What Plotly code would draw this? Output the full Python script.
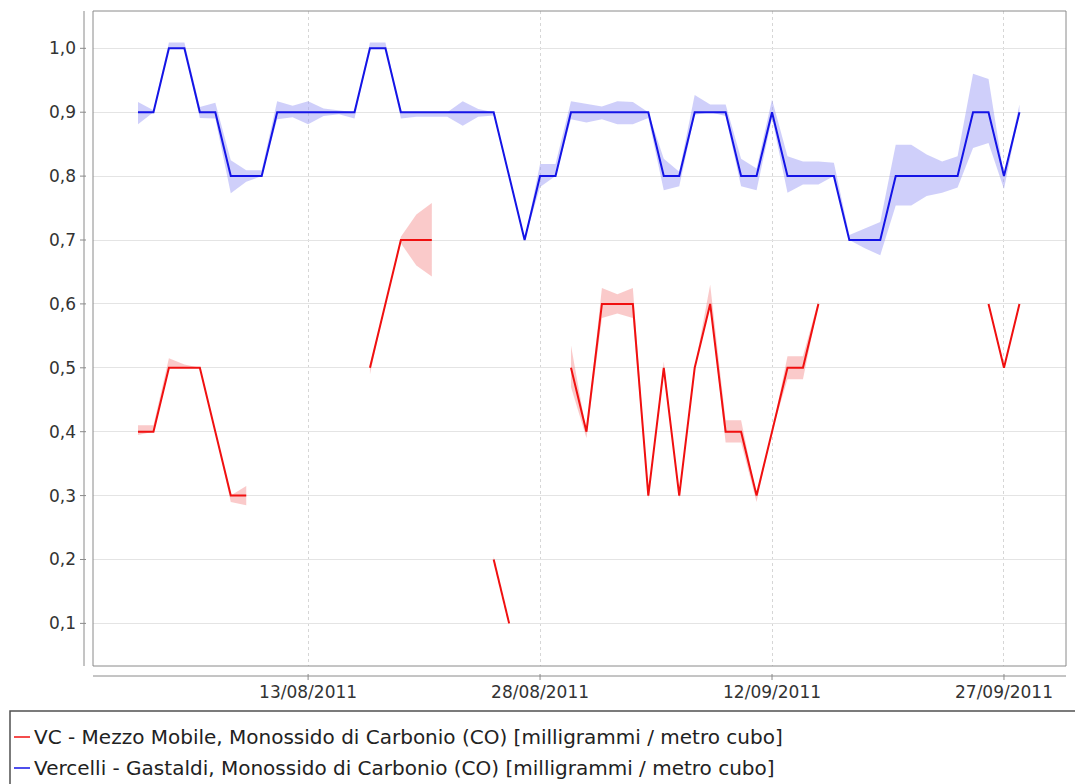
import pandas as pd
import plotly.graph_objects as go

# Daily CO readings, 02/08/2011 .. 28/09/2011 (None = no reading)
DATES = pd.date_range("2011-08-02", "2011-09-28", freq="D")

SERIES_NAMES = [
    "VC - Mezzo Mobile, Monossido di Carbonio (CO) [milligrammi / metro cubo]",
    "Vercelli - Gastaldi, Monossido di Carbonio (CO) [milligrammi / metro cubo]",
]

# VC - Mezzo Mobile
RED_VALUES = [
    0.4, 0.4, 0.5, 0.5, 0.5, 0.4, 0.3, 0.3, None, None,          # 02-11 Aug
    None, None, None, None, None, 0.5, 0.6, 0.7, 0.7, 0.7,       # 12-21 Aug
    None, None, None, 0.2, 0.1, None, None, None, 0.5, 0.4,      # 22-31 Aug
    0.6, 0.6, 0.6, 0.3, 0.5, 0.3, 0.5, 0.6, 0.4, 0.4,            # 01-10 Sep
    0.3, 0.4, 0.5, 0.5, 0.6, None, None, None, None, None,       # 11-20 Sep
    None, None, None, None, None, 0.6, 0.5, 0.6,                 # 21-28 Sep
]
RED_UPPER = [
    0.41, 0.41, 0.515, 0.505, 0.5, 0.4, 0.3, 0.315, None, None,
    None, None, None, None, None, 0.505, 0.6, 0.705, 0.74, 0.758,
    None, None, None, 0.205, 0.1, None, None, None, 0.535, 0.4,
    0.625, 0.615, 0.625, 0.3, 0.51, 0.3, 0.5, 0.63, 0.418, 0.418,
    0.3, 0.4, 0.518, 0.518, 0.605, None, None, None, None, None,
    None, None, None, None, None, 0.6, 0.5, 0.6,
]
RED_LOWER = [
    0.395, 0.4, 0.5, 0.5, 0.5, 0.4, 0.29, 0.285, None, None,
    None, None, None, None, None, 0.49, 0.6, 0.695, 0.66, 0.643,
    None, None, None, 0.2, 0.095, None, None, None, 0.47, 0.39,
    0.578, 0.585, 0.578, 0.295, 0.5, 0.295, 0.5, 0.6, 0.383, 0.383,
    0.29, 0.4, 0.482, 0.482, 0.6, None, None, None, None, None,
    None, None, None, None, None, 0.6, 0.5, 0.6,
]

# Vercelli - Gastaldi
BLUE_VALUES = [
    0.9, 0.9, 1.0, 1.0, 0.9, 0.9, 0.8, 0.8, 0.8, 0.9,            # 02-11 Aug
    0.9, 0.9, 0.9, 0.9, 0.9, 1.0, 1.0, 0.9, 0.9, 0.9,            # 12-21 Aug
    0.9, 0.9, 0.9, 0.9, 0.8, 0.7, 0.8, 0.8, 0.9, 0.9,            # 22-31 Aug
    0.9, 0.9, 0.9, 0.9, 0.8, 0.8, 0.9, 0.9, 0.9, 0.8,            # 01-10 Sep
    0.8, 0.9, 0.8, 0.8, 0.8, 0.8, 0.7, 0.7, 0.7, 0.8,            # 11-20 Sep
    0.8, 0.8, 0.8, 0.8, 0.9, 0.9, 0.8, 0.9,                      # 21-28 Sep
]
BLUE_UPPER = [
    0.916, 0.903, 1.009, 1.009, 0.908, 0.915, 0.825, 0.809, 0.809, 0.917,
    0.91, 0.917, 0.906, 0.903, 0.9, 1.009, 1.009, 0.9, 0.9, 0.9,
    0.9, 0.917, 0.905, 0.9, 0.8, 0.7, 0.819, 0.819, 0.917, 0.913,
    0.909, 0.917, 0.916, 0.9, 0.827, 0.807, 0.927, 0.912, 0.912, 0.827,
    0.812, 0.92, 0.831, 0.823, 0.823, 0.821, 0.708, 0.718, 0.728, 0.849,
    0.849, 0.834, 0.823, 0.831, 0.96, 0.952, 0.8, 0.912,
]
BLUE_LOWER = [
    0.881, 0.9, 1.0, 1.0, 0.891, 0.89, 0.773, 0.791, 0.8, 0.889,
    0.892, 0.881, 0.894, 0.897, 0.89, 1.0, 1.0, 0.89, 0.893, 0.893,
    0.893, 0.879, 0.893, 0.895, 0.8, 0.7, 0.783, 0.8, 0.889, 0.884,
    0.889, 0.881, 0.881, 0.891, 0.778, 0.784, 0.896, 0.9, 0.894, 0.784,
    0.778, 0.891, 0.774, 0.787, 0.787, 0.8, 0.7, 0.687, 0.676, 0.754,
    0.754, 0.769, 0.774, 0.782, 0.844, 0.852, 0.78, 0.9,
]

X_TICKS = ["2011-08-13", "2011-08-28", "2011-09-12", "2011-09-27"]
X_TICK_LABELS = ["13/08/2011", "28/08/2011", "12/09/2011", "27/09/2011"]
Y_TICKS = [0.1, 0.2, 0.3, 0.4, 0.5, 0.6, 0.7, 0.8, 0.9, 1.0]

LINE_COLORS = ["#f01010", "#1414e6"]
BAND_COLORS = ["rgba(245,150,150,0.5)", "rgba(160,160,245,0.5)"]

# Figure geometry (pixels)
W, H = 1075, 784
ML, MR, MT, MB = 93, 9, 11, 118
PW, PH = W - ML - MR, H - MT - MB


def px_x(px):
    """Horizontal pixel position -> paper coordinate."""
    return (px - ML) / PW


def px_y(py):
    """Vertical pixel position (from top) -> paper coordinate."""
    return (H - MB - py) / PH


def runs(values):
    """Index runs of consecutive non-missing values."""
    out, cur = [], []
    for i, v in enumerate(values):
        if v is None:
            if cur:
                out.append(cur)
            cur = []
        else:
            cur.append(i)
    if cur:
        out.append(cur)
    return out


fig = go.Figure()

series = [
    (SERIES_NAMES[0], RED_VALUES, RED_UPPER, RED_LOWER),
    (SERIES_NAMES[1], BLUE_VALUES, BLUE_UPPER, BLUE_LOWER),
]

# deviation bands
for k, (name, vals, up, lo) in enumerate(series):
    for r in runs(vals):
        xs = [DATES[i] for i in r] + [DATES[i] for i in reversed(r)]
        ys = [up[i] for i in r] + [lo[i] for i in reversed(r)]
        fig.add_trace(go.Scatter(
            x=xs, y=ys, mode="lines", fill="toself",
            fillcolor=BAND_COLORS[k], line=dict(width=0),
            hoverinfo="skip", showlegend=False, name=name,
        ))

# series lines
for k, (name, vals, up, lo) in enumerate(series):
    fig.add_trace(go.Scatter(
        x=DATES, y=vals, mode="lines", name=name,
        line=dict(color=LINE_COLORS[k], width=2),
        connectgaps=False, showlegend=False,
    ))

shapes = [
    # plot frame
    dict(type="rect", xref="paper", yref="paper", x0=0, x1=1, y0=0, y1=1,
         line=dict(color="#8a8a8a", width=1), layer="above"),
    # offset domain axis line
    dict(type="line", xref="paper", yref="paper", x0=0, x1=1,
         y0=px_y(676), y1=px_y(676), line=dict(color="#8a8a8a", width=1)),
    # offset range axis line
    dict(type="line", xref="paper", yref="paper", x0=px_x(84), x1=px_x(84),
         y0=0, y1=1, line=dict(color="#8a8a8a", width=1)),
    # legend frame
    dict(type="rect", xref="paper", yref="paper",
         x0=px_x(10), x1=px_x(1085), y0=px_y(711), y1=px_y(795),
         line=dict(color="#505050", width=1.5)),
]
for t in X_TICKS:
    shapes.append(dict(type="line", xref="x", yref="paper", x0=t, x1=t,
                       y0=px_y(674), y1=px_y(680),
                       line=dict(color="#8a8a8a", width=1)))
for v in Y_TICKS:
    shapes.append(dict(type="line", xref="paper", yref="y",
                       x0=px_x(80), x1=px_x(86), y0=v, y1=v,
                       line=dict(color="#8a8a8a", width=1)))

# legend rows
annotations = []
for k, (name, ypx) in enumerate(zip(SERIES_NAMES, [737, 768])):
    shapes.append(dict(type="line", xref="paper", yref="paper",
                       x0=px_x(14), x1=px_x(30), y0=px_y(ypx), y1=px_y(ypx),
                       line=dict(color=LINE_COLORS[k], width=1.5)))
    annotations.append(dict(xref="paper", yref="paper", x=px_x(32), y=px_y(ypx),
                            xanchor="left", yanchor="middle", showarrow=False,
                            text=name, font=dict(size=20, color="#222222")))

fig.update_layout(
    width=W, height=H,
    margin=dict(l=ML, r=MR, t=MT, b=MB),
    paper_bgcolor="white", plot_bgcolor="white",
    font=dict(family="DejaVu Sans", size=17, color="#333333"),
    separators=", ",
    shapes=shapes, annotations=annotations,
    showlegend=False,
)
fig.update_xaxes(
    type="date", range=["2011-07-30 02:10", "2011-10-01 00:15"],
    tickvals=X_TICKS, ticktext=X_TICK_LABELS,
    showgrid=True, gridcolor="#d6d6d6", griddash="dot", gridwidth=1,
    zeroline=False, showline=False, ticks="", ticklabelstandoff=14,
)
fig.update_yaxes(
    range=[0.0333, 1.0584], tickvals=Y_TICKS, tickformat=".1f",
    showgrid=True, gridcolor="#e4e4e4", gridwidth=1,
    zeroline=False, showline=False, ticks="", ticklabelstandoff=16,
)

fig.write_html("out.html")
